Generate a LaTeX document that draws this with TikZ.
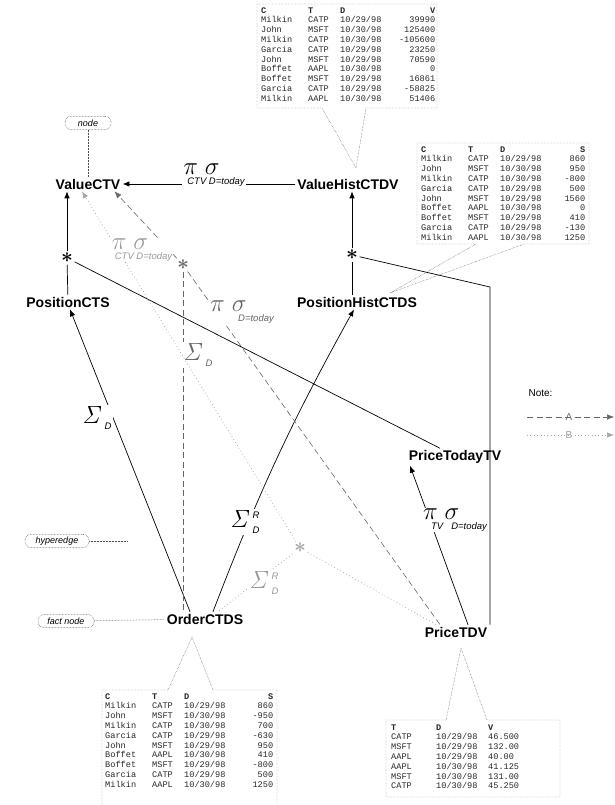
\documentclass[tikz,border=0pt]{standalone}
\usepackage[no-math]{fontspec}
\setmainfont{Liberation Sans}
\setmonofont{Liberation Mono}
\usepackage{array}
\usetikzlibrary{arrows.meta,positioning}
\newcolumntype{R}[1]{>{\raggedleft\arraybackslash}p{#1}}
\newcommand{\subf}{\fontsize{9.5}{9.5}\selectfont\itshape}
% projection/selection label: subscripts set on a line under pi sigma
\newcommand{\ps}[2][3pt]{\vbox{\offinterlineskip\hbox{$\pi\;\sigma$}\kern2.5pt\hbox{\kern#1\subf #2}}}
% aggregation label
\newcommand{\agg}[2]{$\mathit{\Sigma}^{\hbox{\subf\kern2pt#1}}_{\hbox{\subf\kern5pt#2}}$}
\tikzset{
  lbl/.style={font=\fontsize{14}{14}\selectfont\bfseries,inner sep=2pt},
  jn/.style={font=\fontsize{20}{20}\selectfont\boldmath,inner sep=1.5pt},
  op/.style={font=\fontsize{23}{23}\selectfont,fill=white,inner sep=1pt},
  ann/.style={draw=black!75,densely dotted,rounded corners=6pt,line width=.5pt,
    font=\fontsize{9}{9}\selectfont\itshape,minimum height=13pt,inner sep=2pt},
  ptr/.style={draw=black!70,densely dotted,line width=.5pt},
  hline/.style={draw=black,line width=.7pt},
  hedge/.style={hline,-{Latex[length=7pt,width=5.5pt]}},
  dsh/.style={draw=black!60,line width=.6pt,dash pattern=on 6pt off 3.5pt},
  dtt/.style={draw=black!35,line width=.7pt,dash pattern=on .8pt off 2.6pt},
  dtip/.style={-{Latex[length=7pt,width=5.5pt,fill=black!60]}},
  btip/.style={-{Latex[length=7pt,width=5.5pt,fill=black!35,color=black!35]}},
  callout/.style={draw=black!70,densely dotted,line width=.45pt},
  tbl/.style={font=\fontsize{8.6}{9.8}\selectfont\ttfamily,text=black!85,
    inner sep=0pt,anchor=north west,align=left},
}

\begin{document}
\begin{tikzpicture}[x=1pt,y=-1pt]
\useasboundingbox (0,0) rectangle (614,805);
% fact nodes
\node[lbl] (vctv)   at (88,184)  {ValueCTV};
\node[lbl] (vhist)  at (348,184) {ValueHistCTDV};
\node[lbl] (pcts)   at (68,302)  {PositionCTS};
\node[lbl] (phist)  at (357,302) {PositionHistCTDS};
\node[lbl] (ptoday) at (455,457) {PriceTodayTV};
\node[lbl] (order)  at (205,619) {OrderCTDS};
\node[lbl] (price)  at (456,632) {PriceTDV};
% joins
\node[jn] (j1) at (67,258) {$\ast$};
\node[jn] (j2) at (352,255) {$\ast$};
\node[jn,text=black!60] (jA) at (183,265) {$\ast$};
\node[jn,text=black!35] (jB) at (300,548) {$\ast$};

% solid hyperedges
\draw[hedge] (vhist) -- (vctv);
\node[op] (l1) at (214,175) {\ps[4pt]{CTV D=today}};
\draw[hline] (pcts) -- (j1);
\draw[hedge] (j1) -- (j1 |- vctv.south);
\draw[hline] (j1) -- ([xshift=-15pt]ptoday.north);
\draw[hline] (phist.north -| j2) -- (j2);
\draw[hedge] (j2) -- (j2 |- vhist.south);
\coordinate (kink) at (490,287);
\draw[hline] (j2) -- (kink) -- (kink |- price.north);
\draw[hedge] ([xshift=-15pt]order.north) -- ([xshift=2pt]pcts.south);
\node[op] (l2) at (97,418) {\agg{}{D}};
\draw[hedge] ([xshift=8pt]order.north) to[bend left=4] ([xshift=-3pt]phist.south);
\node[op] (l3) at (245,522) {\agg{R}{D}};
\draw[hedge] ([xshift=12pt]price.north) -- ([xshift=-45pt]ptoday.south);
\node[op] (l4) at (455,520) {\ps[8pt]{TV\hspace{8pt}D=today}};

% dashed hyperedge (A)
\draw[dsh] (jA) -- (jA |- order.north);
\draw[dsh] (jA) -- ([xshift=-16pt]price.north);
\draw[dsh,dtip] (jA) -- ([xshift=-8pt]vctv.south east);
\node[op,text=black!60] (l5) at (198,355) {\agg{}{D}};
\node[op,text=black!60] (l6) at (242,312) {\ps[28pt]{D=today}};

% dotted hyperedge (B)
\draw[dtt] (jB) -- ([xshift=13pt]order.north);
\draw[dtt] (jB) -- ([xshift=-20pt]price.north);
\draw[dtt,btip] (jB) -- ([xshift=-6pt]vctv.south);
\node[op,text=black!40] (l7) at (264,583) {\agg{R}{D}};
\node[op,text=black!40] (l8) at (142,250) {\ps[3pt]{CTV D=today}};

% annotations
\node[ann,minimum width=46pt] (anode) at (88,123) {node};
\draw[ptr] (anode) -- (vctv);
\node[ann,minimum width=64pt] (ahyp) at (57,541) {hyperedge};
\coordinate (hypend) at (128,541);
\draw[ptr] (ahyp) -- (hypend);
\node[ann,minimum width=56pt] (afact) at (66,621) {fact node};
\draw[ptr] (afact) -- (order);

% legend
\node[font=\fontsize{10}{10}\selectfont,anchor=west] (note) at (525,393) {Note:};
\coordinate (la0) at (527,417); \coordinate (la1) at (614,417);
\draw[dsh,dtip] (la0) -- (la1);
\node[font=\fontsize{10}{10}\selectfont,text=black!60] (na) at (569,417) {A};
\coordinate (lb0) at (527,435); \coordinate (lb1) at (614,435);
\draw[dtt,btip] (lb0) -- (lb1);
\node[font=\fontsize{10}{10}\selectfont,text=black!40] (nb) at (569,435) {B};

% data callouts
\draw[callout] (322,108) -- (257,108) -- (257,4) -- (437,4) -- (437,108) -- (366,108) -- (356,168) -- cycle;
\node[tbl] (tvh) at (261,6) {\begin{tabular}{@{}p{47pt}@{}p{32pt}@{}p{42pt}@{}R{53pt}@{}}
\textbf{C}&\textbf{T}&\textbf{D}&\textbf{V}\\
Milkin&CATP&10/29/98&39990\\
John&MSFT&10/30/98&125400\\
Milkin&CATP&10/30/98&-105600\\
Garcia&CATP&10/29/98&23250\\
John&MSFT&10/29/98&70590\\
Boffet&AAPL&10/30/98&0\\
Boffet&MSFT&10/29/98&16861\\
Garcia&CATP&10/29/98&-58825\\
Milkin&AAPL&10/30/98&51406
\end{tabular}};

\draw[callout] (476,244) -- (417,244) -- (417,143) -- (589,143) -- (589,244) -- (524,244) -- (390,293) -- cycle;
\node[tbl] (tph) at (421,145) {\begin{tabular}{@{}p{47pt}@{}p{32pt}@{}p{42pt}@{}R{43pt}@{}}
\textbf{C}&\textbf{T}&\textbf{D}&\textbf{S}\\
Milkin&CATP&10/29/98&860\\
John&MSFT&10/30/98&950\\
Milkin&CATP&10/30/98&-800\\
Garcia&CATP&10/29/98&500\\
John&MSFT&10/29/98&1560\\
Boffet&AAPL&10/30/98&0\\
Boffet&MSFT&10/29/98&410\\
Garcia&CATP&10/29/98&-130\\
Milkin&AAPL&10/30/98&1250
\end{tabular}};

\draw[callout] (168,690) -- (192,637) -- (213,690) -- (277,690) -- (277,808) -- (102,808) -- (102,690) -- cycle;
\node[tbl] (tor) at (105,692) {\begin{tabular}{@{}p{47pt}@{}p{32pt}@{}p{42pt}@{}R{47pt}@{}}
\textbf{C}&\textbf{T}&\textbf{D}&\textbf{S}\\
Milkin&CATP&10/29/98&860\\
John&MSFT&10/30/98&-950\\
Milkin&CATP&10/30/98&700\\
Garcia&CATP&10/29/98&-630\\
John&MSFT&10/29/98&950\\
Boffet&AAPL&10/30/98&410\\
Boffet&MSFT&10/29/98&-800\\
Garcia&CATP&10/29/98&500\\
Milkin&AAPL&10/30/98&1250
\end{tabular}};

\draw[callout] (446,720) -- (461,648) -- (487,720) -- (560,720) -- (560,797) -- (386,797) -- (386,720) -- cycle;
\node[tbl] (tpr) at (391,723) {\begin{tabular}{@{}p{45pt}@{}p{52pt}@{}l@{}}
\textbf{T}&\textbf{D}&\textbf{V}\\
CATP&10/29/98&46.500\\
MSFT&10/29/98&132.00\\
AAPL&10/29/98&40.00\\
AAPL&10/30/98&41.125\\
MSFT&10/30/98&131.00\\
CATP&10/30/98&45.250
\end{tabular}};
\end{tikzpicture}
\end{document}
